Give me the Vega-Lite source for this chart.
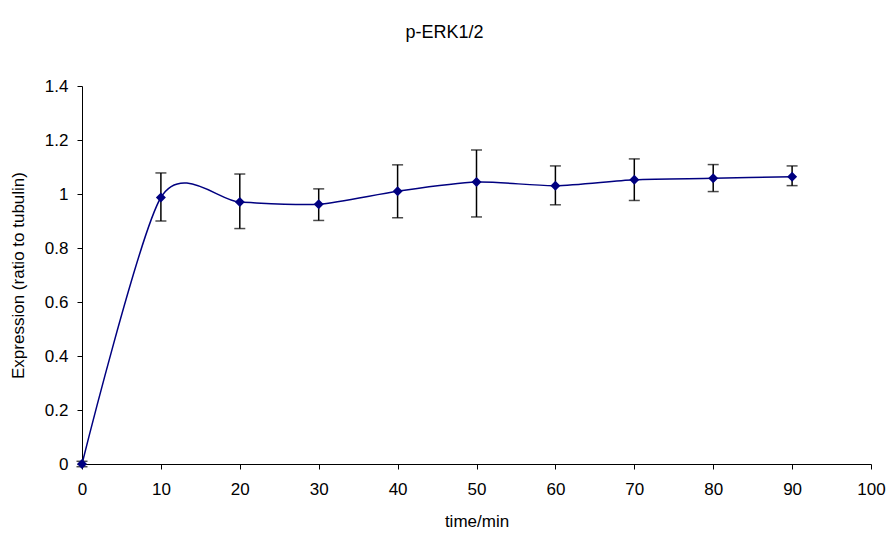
{
  "$schema": "https://vega.github.io/schema/vega-lite/v6.json",
  "autosize": "none",
  "width": 789,
  "height": 378,
  "padding": {"left": 82, "top": 86, "right": 17, "bottom": 70},
  "background": "white",
  "title": {
    "text": "p-ERK1/2",
    "font": "Liberation Sans",
    "fontSize": 18,
    "fontWeight": "normal",
    "color": "black",
    "anchor": "middle",
    "frame": "group",
    "dx": -32,
    "offset": 35
  },
  "config": {
    "view": {"stroke": null},
    "axis": {
      "grid": false,
      "domainColor": "black",
      "tickColor": "black",
      "tickSize": 5,
      "labelColor": "black",
      "labelFont": "Liberation Sans",
      "labelFontSize": 17,
      "labelFlush": false,
      "labelOverlap": false,
      "titleFont": "Liberation Sans",
      "titleFontSize": 17,
      "titleFontWeight": "normal",
      "titleColor": "black"
    }
  },
  "data": {
    "values": [
      {"t": 0, "mean": 0.0, "lo": -0.01, "hi": 0.01},
      {"t": 10, "mean": 0.987, "lo": 0.9, "hi": 1.078},
      {"t": 20, "mean": 0.97, "lo": 0.872, "hi": 1.074},
      {"t": 30, "mean": 0.962, "lo": 0.902, "hi": 1.019},
      {"t": 40, "mean": 1.01, "lo": 0.912, "hi": 1.108},
      {"t": 50, "mean": 1.044, "lo": 0.915, "hi": 1.163},
      {"t": 60, "mean": 1.031, "lo": 0.96, "hi": 1.104},
      {"t": 70, "mean": 1.053, "lo": 0.976, "hi": 1.13},
      {"t": 80, "mean": 1.058, "lo": 1.009, "hi": 1.109},
      {"t": 90, "mean": 1.064, "lo": 1.031, "hi": 1.104}
    ]
  },
  "encoding": {
    "x": {
      "field": "t",
      "type": "quantitative",
      "title": "time/min",
      "scale": {"domain": [0, 100], "nice": false},
      "axis": {"values": [0, 10, 20, 30, 40, 50, 60, 70, 80, 90, 100], "labelPadding": 12, "titlePadding": 16}
    }
  },
  "layer": [
    {
      "mark": {"type": "line", "interpolate": "cardinal", "tension": 0.2, "color": "#000080", "strokeWidth": 1.5},
      "encoding": {
        "y": {
          "field": "mean",
          "type": "quantitative",
          "title": "Expression (ratio to tubulin)",
          "scale": {"domain": [0, 1.4], "nice": false},
          "axis": {"values": [0, 0.2, 0.4, 0.6, 0.8, 1, 1.2, 1.4], "format": "~g", "labelPadding": 9, "titlePadding": 17}
        }
      }
    },
    {
      "mark": {"type": "rule", "color": "black", "strokeWidth": 1.5},
      "encoding": {
        "y": {"field": "lo", "type": "quantitative"},
        "y2": {"field": "hi"}
      }
    },
    {
      "mark": {"type": "tick", "orient": "horizontal", "color": "black", "size": 11, "thickness": 1.5},
      "encoding": {"y": {"field": "lo", "type": "quantitative"}}
    },
    {
      "mark": {"type": "tick", "orient": "horizontal", "color": "black", "size": 11, "thickness": 1.5},
      "encoding": {"y": {"field": "hi", "type": "quantitative"}}
    },
    {
      "mark": {"type": "point", "shape": "diamond", "filled": true, "color": "#000080", "size": 100, "opacity": 1},
      "encoding": {"y": {"field": "mean", "type": "quantitative"}}
    }
  ]
}
